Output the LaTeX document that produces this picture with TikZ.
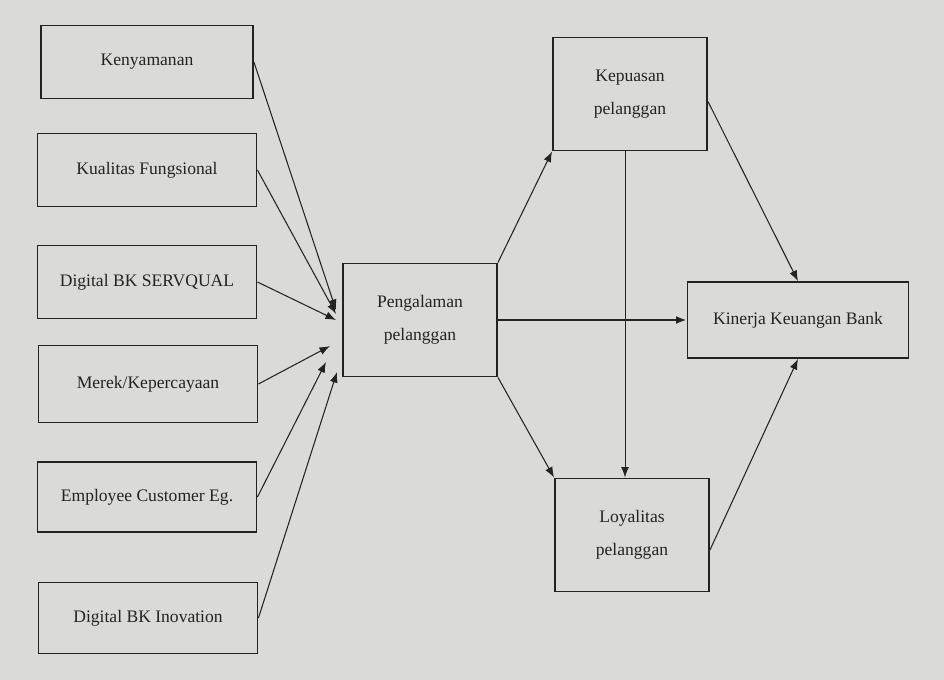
\documentclass[tikz,border=0pt]{standalone}
\usepackage{fontspec}
\setmainfont{Liberation Serif}
\usetikzlibrary{arrows.meta}
\definecolor{scr}{RGB}{218,218,214}
\definecolor{ink}{RGB}{35,35,35}

\begin{document}
\begin{tikzpicture}[x=0.02cm,y=-0.02cm,
  box/.style={draw=ink,line width=1.1pt,fill=scr,text=ink,align=center,
    font=\fontsize{10}{19}\selectfont,inner sep=2pt},
  lbox/.style={box,minimum width=4.38cm,minimum height=1.46cm},
  rbox/.style={box,minimum width=3.08cm,minimum height=2.26cm},
  link/.style={draw=ink,line width=0.6pt,-{Latex[length=6pt,width=4.5pt]}}]
  \fill[scr] (0,0) rectangle (944,680);
  \useasboundingbox (0,0) rectangle (944,680);
  % factors on the left
  \node[lbox,minimum width=4.24cm] (ken) at (147,62) {Kenyamanan};
  \node[lbox] (kua) at (147,170) {Kualitas Fungsional};
  \node[lbox] (srv) at (147,282) {Digital BK SERVQUAL};
  \node[lbox,minimum height=1.54cm] (mer) at (148,384) {Merek/Kepercayaan};
  \node[lbox,minimum height=1.4cm] (emp) at (147,497) {Employee Customer Eg.};
  \node[lbox,minimum height=1.42cm] (ino) at (148,618) {Digital BK Inovation};
  % middle and right
  \node[rbox] (peng) at (420,320) {Pengalaman\\pelanggan};
  \node[rbox] (kep) at (630,94) {Kepuasan\\pelanggan};
  \node[rbox] (loy) at (632,535) {Loyalitas\\pelanggan};
  \node[box,minimum width=4.42cm,minimum height=1.52cm] (kin) at (798,320)
    {Kinerja Keuangan Bank};
  \coordinate (a1) at (336,310);
  \coordinate (a2) at (336,314);
  \coordinate (a3) at (336,320);
  \coordinate (a4) at (330,346);
  \coordinate (a5) at (326,362);
  \coordinate (a6) at (337,372);
  \draw[link] (ken.east) -- (a1);
  \draw[link] (kua.east) -- (a2);
  \draw[link] (srv.east) -- (a3);
  \draw[link] (mer.east) -- (a4);
  \draw[link] (emp.east) -- (a5);
  \draw[link] (ino.east) -- (a6);
  \draw[link] (peng.north east) -- (kep.south west);
  \draw[link] (peng.south east) -- (loy.north west);
  \draw[link,line width=1pt] (peng.east) -- (kin.west);
  \coordinate (kd) at ([xshift=-0.1cm]kep.south);
  \draw[link,line width=0.5pt] (kd) -- (kd |- loy.north);
  \draw[link] ([yshift=-0.15cm]kep.east) -- (kin.north);
  \draw[link] ([yshift=-0.3cm]loy.east) -- (kin.south);
\end{tikzpicture}
\end{document}
